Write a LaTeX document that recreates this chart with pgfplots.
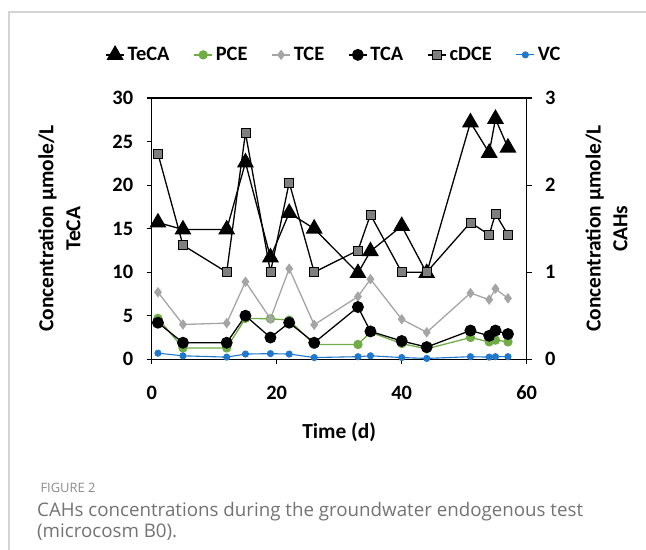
\documentclass[border=0pt]{standalone}
\usepackage{fontspec}
\setmainfont{Carlito}
\newfontfamily\capfont{Open Sans}
\usepackage{pgfplots}
\pgfplotsset{compat=1.18}
\definecolor{pcegreen}{HTML}{70AD47}
\definecolor{tcegray}{HTML}{A5A5A5}
\definecolor{cdcegray}{HTML}{7F7F7F}
\definecolor{vcblue}{HTML}{1F78CC}
\definecolor{capgray}{HTML}{737373}
\definecolor{figgray}{HTML}{8C8C8C}
\newcommand{\chartfont}{\bfseries\fontsize{20.5}{22}\selectfont}
\newcommand{\labelfont}{\bfseries\fontsize{21.5}{27}\selectfont}
\pgfplotsset{
  common/.style={
    at={(151.7bp,190.7bp)}, anchor=south west, scale only axis,
    width=375bp, height=261.3bp, xmin=0, xmax=60, clip=false,
    tick align=outside, major tick length=5bp,
    axis line style={line width=1.1bp},
    every tick/.style={black, line width=1.1bp},
    /pgf/number format/assume math mode=true,
    tick label style={font=\chartfont},
    label style={font=\labelfont},
  },
  teca/.style={black, line width=1.3bp, mark=triangle*, mark size=8.5bp, mark options={solid, fill=black}},
  pce/.style={pcegreen, line width=1.3bp, mark=*, mark size=4bp, mark options={fill=pcegreen, draw=pcegreen}},
  tce/.style={tcegray, line width=1.3bp, mark=diamond*, mark size=4.2bp, mark options={fill=tcegray, draw=tcegray}},
  tca/.style={black, line width=1.3bp, mark=*, mark size=5.3bp, mark options={fill=black}},
  cdce/.style={black, line width=1.3bp, mark=square*, mark size=4.5bp, mark options={fill=cdcegray, draw=black, line width=0.8bp}},
  vc/.style={vcblue, line width=1.1bp, mark=*, mark size=3bp, mark options={fill=vcblue, draw=vcblue}},
}
\begin{document}
\begin{tikzpicture}[x=1bp,y=1bp]
\useasboundingbox (0,0) rectangle (646,550);
\draw[color=black!17, line width=1.2bp] (9,0) -- (9,538) -- (646,538);

\begin{axis}[common,
  ymin=0, ymax=30, ytick={0,5,...,30}, xtick={0,20,40,60},
  ytick pos=left, xtick pos=bottom,
  yticklabel style={xshift=-10bp},
  xticklabel style={yshift=-18bp},
  xlabel={Time (d)},
  ylabel={Concentration µmole/L\\TeCA},
  ylabel style={align=center, at={(rel axis cs:-0.2459,0.5)}, anchor=center},
  xlabel style={at={(rel axis cs:0.5,-0.2782)}, anchor=center},
]
\addplot[teca] coordinates {(1,15.7)(5,14.9)(12,14.9)(15,22.6)(19,11.7)(22,16.8)(26,15.0)(33,9.9)(35,12.4)(40,15.3)(44,9.9)(51,27.2)(54,23.7)(55,27.6)(57,24.3)};
\end{axis}

\begin{axis}[common,
  ymin=0, ymax=3, ytick={0,1,2,3},
  axis y line*=right, axis x line=none,
  yticklabel style={xshift=10bp},
  ylabel={Concentration µmole/L\\CAHs},
  ylabel style={align=center, at={(rel axis cs:1.2128,0.5)}, anchor=center},
  legend columns=6,
  legend style={draw=none, fill=none, at={(rel axis cs:0.486,1.165)}, anchor=center,
    font=\chartfont, inner sep=0pt,
    /tikz/every even column/.append style={column sep=22bp},
    /tikz/every odd column/.append style={column sep=1bp}},
  legend image code/.code={\draw[mark repeat=2, mark phase=2, #1] plot coordinates {(0bp,0bp) (9bp,0bp) (18bp,0bp)};},
]
\addlegendimage{teca}
\addlegendentry{TeCA}
\addplot[pce] coordinates {(1,0.47)(5,0.13)(12,0.13)(15,0.47)(19,0.465)(22,0.45)(26,0.17)(33,0.17)(35,0.31)(40,0.18)(44,0.12)(51,0.25)(54,0.20)(55,0.22)(57,0.20)};
\addlegendentry{PCE}
\addplot[tce] coordinates {(1,0.77)(5,0.40)(12,0.415)(15,0.89)(19,0.465)(22,1.04)(26,0.396)(33,0.72)(35,0.92)(40,0.46)(44,0.31)(51,0.76)(54,0.685)(55,0.81)(57,0.70)};
\addlegendentry{TCE}
\addplot[tca] coordinates {(1,0.42)(5,0.19)(12,0.19)(15,0.50)(19,0.25)(22,0.42)(26,0.19)(33,0.60)(35,0.32)(40,0.21)(44,0.14)(51,0.33)(54,0.27)(55,0.33)(57,0.29)};
\addlegendentry{TCA}
\addplot[cdce] coordinates {(1,2.36)(5,1.31)(12,1.0)(15,2.6)(19,1.0)(22,2.03)(26,1.0)(33,1.25)(35,1.66)(40,1.0)(44,1.0)(51,1.57)(54,1.43)(55,1.67)(57,1.43)};
\addlegendentry{cDCE}
\addplot[vc] coordinates {(1,0.07)(5,0.04)(12,0.025)(15,0.06)(19,0.065)(22,0.06)(26,0.02)(33,0.03)(35,0.04)(40,0.02)(44,0.01)(51,0.03)(54,0.025)(55,0.03)(57,0.03)};
\addlegendentry{VC}
\end{axis}

\node[anchor=west, font=\capfont\fontsize{13}{15}\selectfont, text=figgray] at (37,62) {FIGURE 2};
\node[anchor=north west, align=left, inner sep=0pt, font=\capfont\fontsize{18.8}{21}\selectfont, text=capgray] at (37,48) {CAHs concentrations during the groundwater endogenous test\\(microcosm B0).};
\end{tikzpicture}
\end{document}
